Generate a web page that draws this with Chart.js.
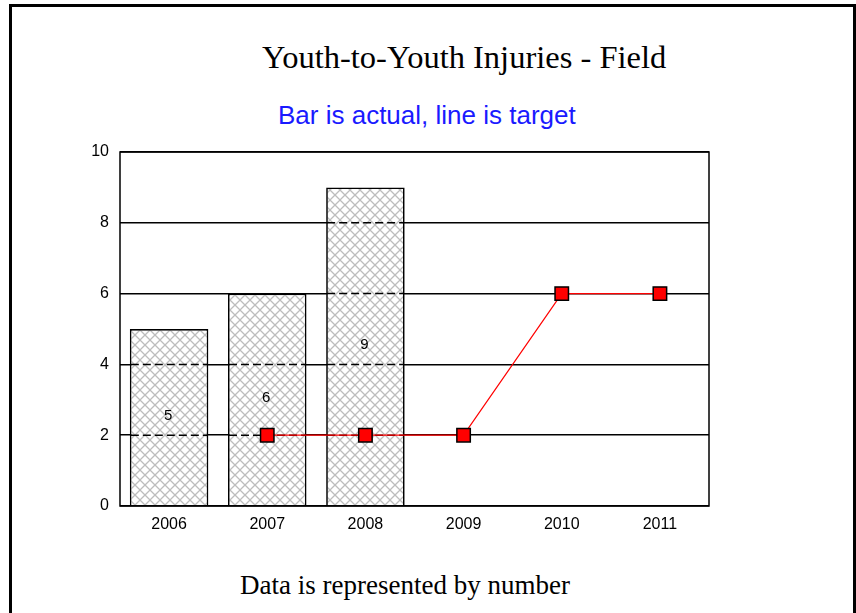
<!DOCTYPE html>
<html>
<head>
<meta charset="utf-8">
<script src="https://cdn.jsdelivr.net/npm/chart.js@4"></script>
<style>
  html, body { margin: 0; padding: 0; background: #fff; }
  #wrap { position: relative; width: 856px; height: 613px; overflow: hidden; }
  #frame { position: absolute; left: 9px; top: 4px; width: 847px; height: 620px; box-sizing: border-box;
           border-left: 3px solid #000; border-top: 3px solid #000; border-right: 3px solid #000; }
  .txt { position: absolute; white-space: nowrap; line-height: 1; }
  #title { left: 262px; top: 41px; font-family: "Liberation Serif", "Times New Roman", serif; font-size: 32.5px; color: #000; }
  #subtitle { left: 278px; top: 102px; font-family: "Liberation Sans", Arial, sans-serif; font-size: 26px; color: #1a1aff; }
  #footer { left: 240px; top: 572px; font-family: "Liberation Serif", "Times New Roman", serif; font-size: 27px; color: #000; }
  canvas { position: absolute; left: 0; top: 0; }
</style>
</head>
<body>
<div id="wrap">
  <div id="frame"></div>
  <div class="txt" id="title">Youth-to-Youth Injuries - Field</div>
  <div class="txt" id="subtitle">Bar is actual, line is target</div>
  <div class="txt" id="footer">Data is represented by number</div>
  <canvas id="c" width="856" height="613"></canvas>
</div>
<script>
const categories = ["2006", "2007", "2008", "2009", "2010", "2011"];
const actualValues = [5, 6, 9, null, null, null];
const targetValues = [null, 2, 2, 2, 6, 6];
const yTicks = [0, 2, 4, 6, 8, 10];

function hatch() {
  const n = 10;
  const p = document.createElement('canvas');
  p.width = n; p.height = n;
  const g = p.getContext('2d');
  g.fillStyle = '#ffffff';
  g.fillRect(0, 0, n, n);
  g.strokeStyle = '#bdbdbd';
  g.lineWidth = 1.3;
  g.beginPath();
  g.moveTo(-1, -1); g.lineTo(n + 1, n + 1);
  g.moveTo(-1, n + 1); g.lineTo(n + 1, -1);
  g.stroke();
  return g.createPattern(p, 'repeat');
}

const barExtras = {
  id: 'barExtras',
  afterDatasetDraw(chart, args) {
    if (args.index !== 0) return;
    const ctx = chart.ctx;
    const ys = chart.scales.y;
    const meta = chart.getDatasetMeta(0);
    ctx.save();
    meta.data.forEach((el, i) => {
      const v = actualValues[i];
      if (v == null) return;
      const half = el.width / 2;
      ctx.strokeStyle = '#000';
      ctx.lineWidth = 1.5;
      ctx.setLineDash([8, 4]);
      yTicks.forEach(t => {
        if (t > 0 && t < v) {
          const y = ys.getPixelForValue(t);
          ctx.beginPath();
          ctx.moveTo(el.x - half + 1, y);
          ctx.lineTo(el.x + half - 1, y);
          ctx.stroke();
        }
      });
      ctx.setLineDash([]);
      ctx.fillStyle = '#000';
      ctx.font = '15px "Liberation Sans", Arial, sans-serif';
      ctx.textAlign = 'center';
      ctx.textBaseline = 'middle';
      ctx.fillText(String(v), el.x - 1, ys.getPixelForValue(v / 2) - 2);
    });
    ctx.restore();
  },
  afterDraw(chart) {
    const a = chart.chartArea;
    const ctx = chart.ctx;
    ctx.save();
    ctx.strokeStyle = '#000';
    ctx.lineWidth = 1.5;
    ctx.strokeRect(a.left, a.top, a.right - a.left, a.bottom - a.top);
    ctx.restore();
  }
};

new Chart(document.getElementById('c'), {
  data: {
    labels: categories,
    datasets: [
      {
        type: 'bar',
        label: 'Actual',
        data: actualValues,
        backgroundColor: hatch(),
        borderColor: '#000',
        borderWidth: 1.7,
        barPercentage: 0.8,
        categoryPercentage: 1.0,
        order: 2
      },
      {
        type: 'line',
        label: 'Target',
        data: targetValues,
        borderColor: '#ff0000',
        borderWidth: 1.2,
        pointStyle: 'rect',
        pointRadius: 9.5,
        pointHoverRadius: 9.5,
        pointBackgroundColor: '#ff0000',
        pointBorderColor: '#000',
        pointBorderWidth: 1.5,
        spanGaps: false,
        tension: 0,
        order: 1
      }
    ]
  },
  options: {
    responsive: false,
    animation: false,
    events: [],
    layout: { padding: { left: 0, top: 152, right: 147, bottom: 0 } },
    plugins: { legend: { display: false }, tooltip: { enabled: false }, title: { display: false } },
    scales: {
      x: {
        grid: { display: false, drawTicks: false },
        border: { display: false },
        ticks: { color: '#000', padding: 9, font: { family: '"Liberation Sans", Arial, sans-serif', size: 16 } },
        afterFit(s) { s.height = 107; }
      },
      y: {
        min: 0, max: 10,
        afterBuildTicks(s) { s.ticks = yTicks.map(v => ({ value: v })); },
        grid: { color: '#000', lineWidth: 1.5, drawTicks: false },
        border: { display: false },
        ticks: { color: '#000', padding: 11, font: { family: '"Liberation Sans", Arial, sans-serif', size: 16 } },
        afterFit(s) { s.width = 120; }
      }
    }
  },
  plugins: [barExtras]
});
</script>
</body>
</html>
